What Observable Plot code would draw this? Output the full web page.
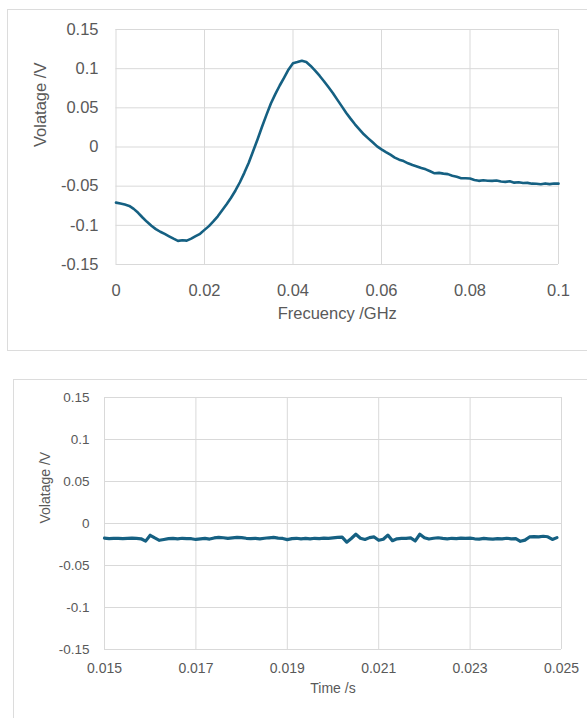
<!DOCTYPE html>
<html>
<head>
<meta charset="utf-8">
<script src="https://cdn.jsdelivr.net/npm/d3@7"></script>
<script src="https://cdn.jsdelivr.net/npm/@observablehq/plot@0.6"></script>
<style>
  html, body { margin: 0; padding: 0; background: #fff; }
  body { position: relative; width: 587px; height: 718px; overflow: hidden;
         font-family: "Liberation Sans", Arial, sans-serif; }
  .box { position: absolute; border: 1.5px solid #dcdcdc; box-sizing: border-box; }
  #box1 { left: 7px; top: 9px; width: 620px; height: 342px; }
  #box2 { left: 13px; top: 379px; width: 620px; height: 400px; }
  .chart { position: absolute; left: 0; }
  #chart1 { top: 0; }
  #chart2 { top: 370px; }
</style>
</head>
<body>
<div class="box" id="box1"></div>
<div class="box" id="box2"></div>
<div class="chart" id="chart1"></div>
<div class="chart" id="chart2"></div>
<script>
// Frequency sweep (GHz) and measured voltage (V)
const frequency = [
  0.000, 0.001, 0.002, 0.003, 0.004, 0.005, 0.006, 0.007, 0.008, 0.009,
  0.010, 0.011, 0.012, 0.013, 0.014, 0.015, 0.016, 0.017, 0.018, 0.019,
  0.020, 0.021, 0.022, 0.023, 0.024, 0.025, 0.026, 0.027, 0.028, 0.029,
  0.030, 0.031, 0.032, 0.033, 0.034, 0.035, 0.036, 0.037, 0.038, 0.039,
  0.040, 0.041, 0.042, 0.043, 0.044, 0.045, 0.046, 0.047, 0.048, 0.049,
  0.050, 0.051, 0.052, 0.053, 0.054, 0.055, 0.056, 0.057, 0.058, 0.059,
  0.060, 0.061, 0.062, 0.063, 0.064, 0.065, 0.066, 0.067, 0.068, 0.069,
  0.070, 0.071, 0.072, 0.073, 0.074, 0.075, 0.076, 0.077, 0.078, 0.079,
  0.080, 0.081, 0.082, 0.083, 0.084, 0.085, 0.086, 0.087, 0.088, 0.089,
  0.090, 0.091, 0.092, 0.093, 0.094, 0.095, 0.096, 0.097, 0.098, 0.099,
  0.100
];
const voltageFreq = [
  -0.0710, -0.0722, -0.0735, -0.0752, -0.0790, -0.0840, -0.0900, -0.0955, -0.1005, -0.1048,
  -0.1082, -0.1110, -0.1140, -0.1170, -0.1198, -0.1190, -0.1195, -0.1170, -0.1138, -0.1108,
  -0.1058, -0.1010, -0.0950, -0.0885, -0.0808, -0.0730, -0.0648, -0.0555, -0.0450, -0.0330,
  -0.0200, -0.0050,  0.0100,  0.0258,  0.0410,  0.0555,  0.0675,  0.0785,  0.0885,  0.0990,
   0.1070,  0.1085,  0.1102,  0.1085,  0.1035,  0.0975,  0.0910,  0.0840,  0.0765,  0.0690,
   0.0605,  0.0522,  0.0438,  0.0362,  0.0290,  0.0225,  0.0162,  0.0110,  0.0060,  0.0008,
  -0.0030, -0.0065, -0.0098, -0.0135, -0.0162, -0.0180, -0.0208, -0.0230, -0.0248, -0.0268,
  -0.0285, -0.0310, -0.0336, -0.0330, -0.0340, -0.0346, -0.0366, -0.0380, -0.0398, -0.0398,
  -0.0402, -0.0420, -0.0432, -0.0425, -0.0430, -0.0432, -0.0428, -0.0440, -0.0445, -0.0438,
  -0.0455, -0.0450, -0.0460, -0.0458, -0.0468, -0.0470, -0.0476, -0.0465, -0.0474, -0.0466,
  -0.0468
];

// Time record (s) and measured voltage (V)
const time = [
  0.0150, 0.0151, 0.0152, 0.0153, 0.0154, 0.0155, 0.0156, 0.0157, 0.0158, 0.0159,
  0.0160, 0.0161, 0.0162, 0.0163, 0.0164, 0.0165, 0.0166, 0.0167, 0.0168, 0.0169,
  0.0170, 0.0171, 0.0172, 0.0173, 0.0174, 0.0175, 0.0176, 0.0177, 0.0178, 0.0179,
  0.0180, 0.0181, 0.0182, 0.0183, 0.0184, 0.0185, 0.0186, 0.0187, 0.0188, 0.0189,
  0.0190, 0.0191, 0.0192, 0.0193, 0.0194, 0.0195, 0.0196, 0.0197, 0.0198, 0.0199,
  0.0200, 0.0201, 0.0202, 0.0203, 0.0204, 0.0205, 0.0206, 0.0207, 0.0208, 0.0209,
  0.0210, 0.0211, 0.0212, 0.0213, 0.0214, 0.0215, 0.0216, 0.0217, 0.0218, 0.0219,
  0.0220, 0.0221, 0.0222, 0.0223, 0.0224, 0.0225, 0.0226, 0.0227, 0.0228, 0.0229,
  0.0230, 0.0231, 0.0232, 0.0233, 0.0234, 0.0235, 0.0236, 0.0237, 0.0238, 0.0239,
  0.0240, 0.0241, 0.0242, 0.0243, 0.0244, 0.0245, 0.0246, 0.0247, 0.0248, 0.0249
];
const voltageTime = [
  -0.0175, -0.0180, -0.0178, -0.0176, -0.0180, -0.0177, -0.0175, -0.0178, -0.0182, -0.0210,
  -0.0140, -0.0172, -0.0200, -0.0190, -0.0180, -0.0178, -0.0182, -0.0176, -0.0179, -0.0181,
  -0.0190, -0.0184, -0.0178, -0.0185, -0.0172, -0.0165, -0.0170, -0.0178, -0.0172, -0.0166,
  -0.0168, -0.0176, -0.0180, -0.0177, -0.0182, -0.0176, -0.0170, -0.0166, -0.0174, -0.0178,
  -0.0192, -0.0180, -0.0176, -0.0182, -0.0178, -0.0184, -0.0176, -0.0180, -0.0174, -0.0178,
  -0.0172, -0.0166, -0.0162, -0.0222, -0.0178, -0.0128, -0.0175, -0.0190, -0.0168, -0.0160,
  -0.0200, -0.0188, -0.0138, -0.0205, -0.0182, -0.0178, -0.0176, -0.0172, -0.0208, -0.0128,
  -0.0170, -0.0185, -0.0176, -0.0170, -0.0178, -0.0182, -0.0176, -0.0180, -0.0174, -0.0178,
  -0.0175, -0.0182, -0.0186, -0.0178, -0.0183, -0.0187, -0.0180, -0.0184, -0.0176, -0.0182,
  -0.0180, -0.0212, -0.0198, -0.0160, -0.0156, -0.0160, -0.0152, -0.0158, -0.0190, -0.0168
];

// Axis ticks
const voltageTicks = [-0.15, -0.1, -0.05, 0, 0.05, 0.1, 0.15];
const frequencyTicks = [0, 0.02, 0.04, 0.06, 0.08, 0.1];
const timeTicks = [0.015, 0.017, 0.019, 0.021, 0.023, 0.025];

const lineColor = "#156082";
const gridColor = "#d9d9d9";
const textColor = "#595959";
const fontFamily = "'Liberation Sans', Arial, sans-serif";

// Number labels with a plain hyphen for negatives
const fmt = (d) => (d < 0 ? "-" + String(-d) : String(d));

const freqRows = frequency.map((f, i) => ({f, v: voltageFreq[i]}));
const timeRows = time.map((t, i) => ({t, v: voltageTime[i]}));

const chart1 = Plot.plot({
  width: 587,
  height: 340,
  marginLeft: 115.5,
  marginRight: 29,
  marginTop: 29,
  marginBottom: 76,
  style: {background: "transparent", color: textColor, fontFamily, fontSize: "16.5px"},
  x: {domain: [0, 0.1]},
  y: {domain: [-0.15, 0.15]},
  marks: [
    Plot.gridX(frequencyTicks, {stroke: gridColor, strokeOpacity: 1, strokeWidth: 1}),
    Plot.gridY(voltageTicks, {stroke: gridColor, strokeOpacity: 1, strokeWidth: 1}),
    Plot.axisX(frequencyTicks, {tickSize: 0, tickPadding: 20, tickFormat: fmt, label: null, fontSize: 16.5}),
    Plot.axisY(voltageTicks, {tickSize: 0, tickPadding: 17.5, tickFormat: fmt, label: null, fontSize: 16.5}),
    Plot.line(freqRows, {x: "f", y: "v", stroke: lineColor, strokeWidth: 2.6, strokeLinejoin: "round"}),
    Plot.text(["Frecuency /GHz"], {text: (d) => d, frameAnchor: "bottom", dy: 54, fontSize: 16.5, fill: textColor}),
    Plot.text(["Volatage /V"], {text: (d) => d, frameAnchor: "left", rotate: -90, dx: -75.5, fontSize: 16.5, fill: textColor})
  ]
});
document.getElementById("chart1").append(chart1);

const chart2 = Plot.plot({
  width: 587,
  height: 348,
  marginLeft: 104,
  marginRight: 26,
  marginTop: 27,
  marginBottom: 69,
  style: {background: "transparent", color: textColor, fontFamily, fontSize: "14px"},
  x: {domain: [0.015, 0.025]},
  y: {domain: [-0.15, 0.15]},
  marks: [
    Plot.gridX(timeTicks, {stroke: gridColor, strokeOpacity: 1, strokeWidth: 1}),
    Plot.gridY(voltageTicks, {stroke: gridColor, strokeOpacity: 1, strokeWidth: 1}),
    Plot.axisX(timeTicks, {tickSize: 0, tickPadding: 14, tickFormat: fmt, label: null, fontSize: 14}),
    Plot.axisY(voltageTicks, {tickSize: 0, tickPadding: 15, tickFormat: fmt, label: null, fontSize: 13.5}),
    Plot.line(timeRows, {x: "t", y: "v", stroke: lineColor, strokeWidth: 3.2, strokeLinejoin: "round"}),
    Plot.text(["Time /s"], {text: (d) => d, frameAnchor: "bottom", dy: 43, fontSize: 14, fill: textColor}),
    Plot.text(["Volatage /V"], {text: (d) => d, frameAnchor: "left", rotate: -90, dx: -59, fontSize: 14, fill: textColor})
  ]
});
document.getElementById("chart2").append(chart2);
</script>
</body>
</html>
